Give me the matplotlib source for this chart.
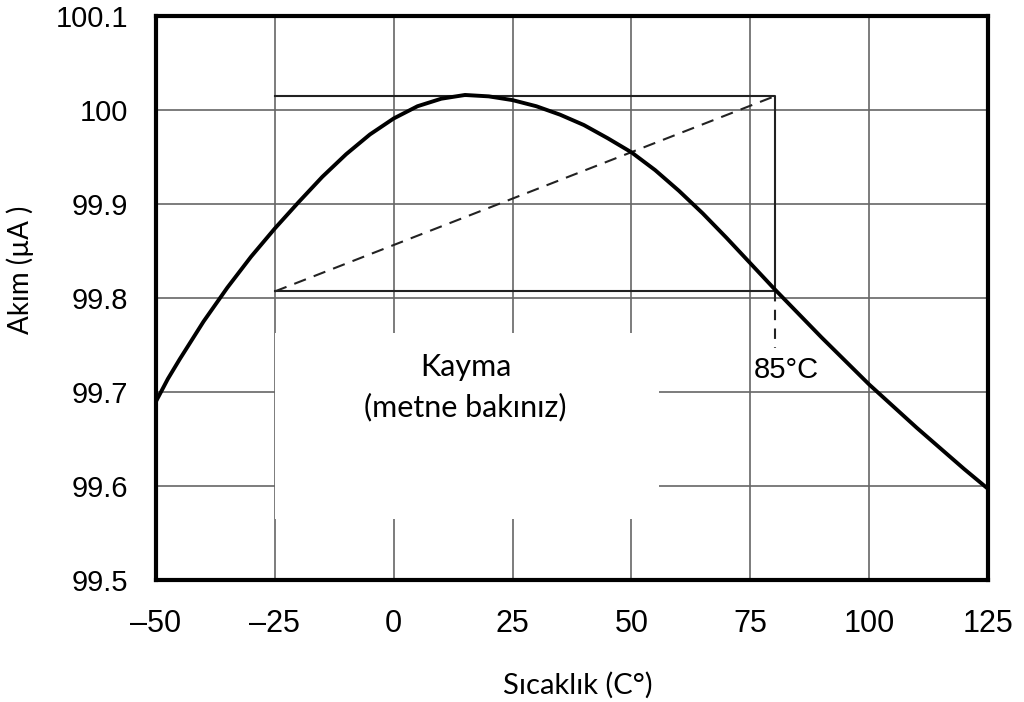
import matplotlib
matplotlib.use('Agg')
import matplotlib.pyplot as plt
from matplotlib.patches import Rectangle

# akim egrisi
sicaklik = [-50, -47.5, -45, -40, -35, -30, -25, -20, -15, -10, -5, 0, 5, 10, 15,
            20, 25, 30, 35, 40, 45, 50, 55, 60, 65, 70, 75, 80, 85, 90, 95,
            100, 105, 110, 115, 120, 125]
akim = [99.690, 99.714, 99.735, 99.775, 99.811, 99.844, 99.874, 99.902, 99.929,
        99.953, 99.974, 99.991, 100.004, 100.012, 100.016, 100.0145, 100.0105,
        100.004, 99.995, 99.984, 99.970, 99.955, 99.936, 99.914, 99.890, 99.864,
        99.837, 99.810, 99.784, 99.758, 99.733, 99.708, 99.685, 99.662, 99.640,
        99.618, 99.597]

x_ticks = [-50, -25, 0, 25, 50, 75, 100, 125]
x_labels = ['–50', '–25', '0', '25', '50', '75', '100', '125']
y_ticks = [99.5, 99.6, 99.7, 99.8, 99.9, 100.0, 100.1]
y_labels = ['99.5', '99.6', '99.7', '99.8', '99.9', '100', '100.1']

# kayma kutusu
kayma_x = [-25, 80.3]
kayma_y = [99.807, 100.015]
etiket_85_alt = 99.747

fig = plt.figure(figsize=(10.24, 7.02), dpi=100)
ax = fig.add_axes([156/1024, 1 - 580/702, (988 - 156)/1024, (580 - 16)/702])

ax.set_xlim(-50, 125)
ax.set_ylim(99.5, 100.1)
ax.set_xticks(x_ticks)
ax.set_xticklabels(x_labels, fontsize=22, family='Liberation Sans')
ax.set_yticks(y_ticks)
ax.set_yticklabels(y_labels, fontsize=21, family='Liberation Sans')
ax.tick_params(axis='x', length=0, pad=21)
ax.tick_params(axis='y', length=0, pad=20)
ax.grid(True, color='#666666', linewidth=1.2)
ax.set_axisbelow(True)
for s in ax.spines.values():
    s.set_linewidth(3)
    s.set_color('black')

# beyaz yazi alani
ax.add_patch(Rectangle((-25, 99.565), 80.7, 0.198, facecolor='white',
                       edgecolor='none', zorder=1.5))

# kayma dikdortgeni
x0, x1 = kayma_x
y0, y1 = kayma_y
ax.plot([x0, x1, x1, x0], [y1, y1, y0, y0], color='#222222', lw=1.5, zorder=2)
ax.plot([x0, x1], [y0, y1], color='#222222', lw=1.5, ls=(0, (6, 4)), zorder=2)
ax.plot([x1, x1], [y0, etiket_85_alt], color='#222222', lw=1.5, ls=(0, (5, 4)), zorder=2)

ax.plot(sicaklik, akim, color='black', lw=2.8, zorder=3,
        solid_capstyle='butt', solid_joinstyle='round')

ax.text(75.8, 99.723, '85°C', fontsize=21, family='Liberation Sans',
        ha='left', va='center', zorder=4)
ax.text(15.1, 99.727, 'Kayma', fontsize=22, family='Lato', ha='center', va='center', zorder=4)
ax.text(15.1, 99.684, '(metne bakınız)', fontsize=22, family='Lato',
        ha='center', va='center', zorder=4)

fig.text(578/1024, 1 - 685/702, 'Sıcaklık (C°)', fontsize=21, family='Lato',
         ha='center', va='center')
fig.text(20/1024, 1 - 270/702, 'Akım (µA )', fontsize=20, family='Lato',
         ha='center', va='center', rotation=90)

plt.savefig('out.png', dpi=100)
plt.close()
